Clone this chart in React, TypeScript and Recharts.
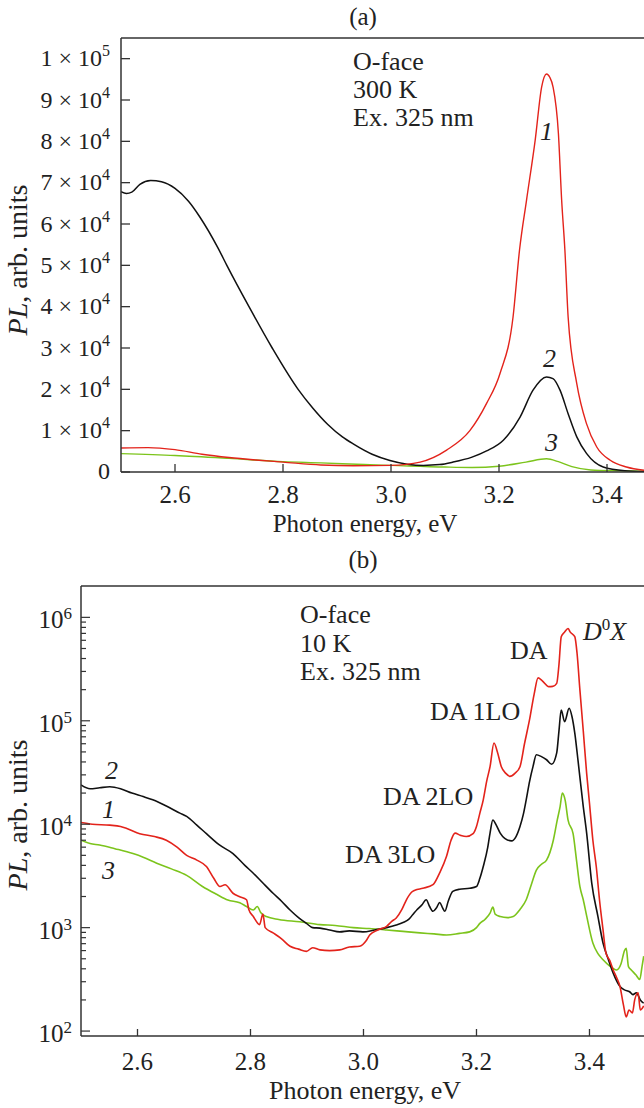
import React from 'react';
import { LineChart, Line, XAxis, YAxis, ReferenceLine } from 'recharts';

const FONT = '"Liberation Serif", "Times New Roman", serif';
const INK = '#222';
const AXIS = '#333';
const RED = '#e3231b';
const BLACK = '#111';
const GREEN = '#7cc41c';

// ---------- Panel (a): 300 K, linear scale ----------
const xTicks = [2.6, 2.8, 3.0, 3.2, 3.4];
const yTicksA = [0, 10000, 20000, 30000, 40000, 50000, 60000, 70000, 80000, 90000, 100000];
const xDomainA: [number, number] = [2.5, 3.4685];
const yDomainA: [number, number] = [0, 105000];

const redA: [number, number][] = [
  [2.5, 5800], [2.55, 5900], [2.6, 5400], [2.65, 4300], [2.7, 3500], [2.75, 2900], [2.8, 2400],
  [2.87, 1700], [2.93, 1500], [3.0, 1600], [3.054, 2400], [3.103, 5300], [3.146, 10000],
  [3.177, 16600], [3.202, 23900], [3.226, 37500], [3.238, 53700], [3.251, 65800], [3.267, 80300],
  [3.279, 93200], [3.288, 96300], [3.294, 95500], [3.3, 93200], [3.31, 81900], [3.316, 65800],
  [3.322, 53700], [3.328, 37500], [3.344, 21400], [3.362, 11700], [3.381, 6050], [3.406, 2830],
  [3.436, 1210], [3.47, 400],
];
const blackA: [number, number][] = [
  [2.5, 67800], [2.51, 67400], [2.52, 67700], [2.535, 69600], [2.555, 70500], [2.575, 70200],
  [2.6, 68600], [2.625, 65500], [2.646, 61700], [2.68, 54100], [2.696, 50000], [2.737, 40000],
  [2.78, 30000], [2.828, 20000], [2.855, 15500], [2.883, 11500], [2.91, 8500], [2.93, 6800],
  [2.965, 4300], [2.998, 2800], [3.03, 1900], [3.06, 1600], [3.09, 1800], [3.115, 2400],
  [3.15, 3600], [3.177, 5100], [3.208, 7700], [3.239, 13300], [3.263, 19800], [3.288, 23000],
  [3.3, 22600], [3.313, 19800], [3.328, 14100], [3.344, 8500], [3.362, 4500], [3.393, 1200],
  [3.433, 300], [3.47, 100],
];
const greenA: [number, number][] = [
  [2.5, 4450], [2.6, 4000], [2.7, 3300], [2.8, 2500], [2.87, 2200], [2.95, 1800], [3.0, 1600],
  [3.1, 1200], [3.15, 1100], [3.2, 1400], [3.25, 2400], [3.288, 3200], [3.31, 2500],
  [3.335, 1300], [3.37, 500], [3.42, 300], [3.47, 200],
];

// ---------- Panel (b): 10 K, log scale ----------
const yMajorB = [100, 1000, 10000, 100000, 1000000];
const minorMultipliers = [2, 3, 4, 5, 6, 7, 8, 9];
const xDomainB: [number, number] = [2.5, 3.4965];
const yDomainB: [number, number] = [89.6, 2010000];

const redB: [number, number][] = [
  [2.5, 10400], [2.52, 10000], [2.551, 9800], [2.57, 9500], [2.581, 9100], [2.604, 8100],
  [2.63, 7600], [2.651, 7000], [2.67, 6000], [2.687, 5000], [2.705, 4500], [2.722, 3900],
  [2.735, 3000], [2.746, 2500], [2.755, 2600], [2.769, 2150], [2.78, 2000], [2.793, 1860],
  [2.797, 1500], [2.805, 1280], [2.816, 1070], [2.822, 1350], [2.826, 1000], [2.84, 890],
  [2.855, 780], [2.87, 660], [2.885, 620], [2.899, 590], [2.91, 640], [2.923, 610], [2.94, 600],
  [2.958, 610], [2.975, 650], [2.993, 660], [3.005, 750], [3.011, 850], [3.025, 950],
  [3.041, 1030], [3.05, 1150], [3.058, 1240], [3.068, 1500], [3.076, 1860], [3.085, 2200],
  [3.091, 2300], [3.105, 2400], [3.123, 2600], [3.135, 3400], [3.147, 4900], [3.155, 7000],
  [3.162, 8200], [3.172, 7800], [3.182, 7600], [3.194, 8100], [3.2, 9500], [3.206, 12800],
  [3.212, 17200], [3.218, 26000], [3.224, 36000], [3.231, 61000], [3.237, 50000],
  [3.244, 36000], [3.252, 31000], [3.259, 29000], [3.268, 31000], [3.277, 36000],
  [3.285, 60000], [3.294, 103000], [3.302, 180000], [3.309, 260000], [3.316, 245000],
  [3.328, 214000], [3.335, 215000], [3.342, 230000], [3.346, 350000], [3.35, 650000],
  [3.356, 720000], [3.362, 780000], [3.366, 720000], [3.374, 650000], [3.378, 450000],
  [3.383, 200000], [3.389, 80000], [3.395, 31000], [3.4, 16000], [3.406, 7000], [3.412, 3900],
  [3.418, 1800], [3.424, 950], [3.429, 570], [3.436, 480], [3.442, 390], [3.448, 330],
  [3.454, 270], [3.46, 180], [3.465, 137], [3.47, 160], [3.476, 150], [3.48, 200],
  [3.486, 235], [3.49, 160], [3.496, 175],
];
const blackB: [number, number][] = [
  [2.5, 24000], [2.516, 22000], [2.533, 22500], [2.551, 23000], [2.57, 22000], [2.59, 20000],
  [2.61, 18500], [2.627, 17200], [2.651, 15000], [2.675, 12800], [2.687, 11900], [2.705, 9800],
  [2.722, 8100], [2.745, 6300], [2.769, 5200], [2.79, 4000], [2.805, 3360], [2.822, 2700],
  [2.84, 2150], [2.855, 1800], [2.87, 1480], [2.885, 1250], [2.899, 1100], [2.91, 1000],
  [2.923, 990], [2.94, 950], [2.958, 910], [2.975, 930], [2.999, 910], [3.02, 950],
  [3.041, 1000], [3.058, 1060], [3.07, 1120], [3.08, 1200], [3.087, 1330], [3.095, 1500],
  [3.103, 1650], [3.111, 1860], [3.117, 1600], [3.123, 1440], [3.129, 1550], [3.135, 1750],
  [3.14, 1550], [3.144, 1440], [3.15, 1800], [3.158, 2240], [3.17, 2350], [3.188, 2400],
  [3.2, 2500], [3.206, 3000], [3.212, 3900], [3.22, 6000], [3.224, 8200], [3.229, 11000],
  [3.235, 9800], [3.242, 8200], [3.25, 7300], [3.262, 6900], [3.27, 7600], [3.277, 9500],
  [3.283, 12500], [3.288, 17200], [3.294, 26000], [3.3, 36000], [3.306, 47000], [3.315, 45000],
  [3.324, 42000], [3.333, 38000], [3.342, 49000], [3.346, 80000], [3.35, 127000],
  [3.356, 98000], [3.364, 132000], [3.369, 110000], [3.374, 76000], [3.38, 40000],
  [3.389, 14800], [3.395, 8200], [3.404, 2700], [3.415, 1280], [3.424, 710], [3.433, 500],
  [3.442, 363], [3.454, 270], [3.462, 250], [3.471, 240], [3.477, 225], [3.483, 235],
  [3.49, 200], [3.496, 186],
];
const greenB: [number, number][] = [
  [2.5, 7000], [2.516, 6500], [2.533, 6300], [2.56, 5800], [2.592, 5200], [2.61, 4800],
  [2.634, 4200], [2.66, 3700], [2.687, 3200], [2.715, 2500], [2.74, 2100], [2.76, 1850],
  [2.781, 1740], [2.793, 1600], [2.805, 1480], [2.812, 1600], [2.818, 1400], [2.828, 1280],
  [2.85, 1200], [2.887, 1140], [2.923, 1070], [2.95, 1050], [2.982, 1000], [3.01, 980],
  [3.041, 950], [3.07, 920], [3.1, 890], [3.125, 870], [3.147, 850], [3.17, 880], [3.188, 910],
  [3.2, 1000], [3.206, 1100], [3.215, 1200], [3.224, 1380], [3.229, 1580], [3.233, 1350],
  [3.242, 1280], [3.255, 1250], [3.265, 1280], [3.277, 1500], [3.288, 1860], [3.297, 2600],
  [3.306, 3600], [3.315, 4100], [3.324, 4500], [3.336, 7000], [3.343, 11000], [3.348, 14800],
  [3.352, 20000], [3.357, 17000], [3.362, 11000], [3.371, 8100], [3.377, 4500], [3.383, 2500],
  [3.389, 1860], [3.395, 1300], [3.406, 710], [3.415, 560], [3.424, 490], [3.435, 430],
  [3.448, 390], [3.456, 450], [3.462, 600], [3.465, 630], [3.469, 420], [3.474, 390],
  [3.482, 350], [3.489, 315], [3.493, 420], [3.496, 530],
];

const toRows = (pts: [number, number][]) => pts.map(([e, v]) => ({ e, v }));

const yTicksB: number[] = [];
yMajorB.forEach((m) => {
  yTicksB.push(m);
  if (m < 1000000) minorMultipliers.forEach((k) => yTicksB.push(m * k));
});

// ---------- tick renderers ----------
const SciTickA = (props: any) => {
  const { x, y, payload } = props;
  const v = payload.value as number;
  let label: React.ReactNode;
  if (v === 0) {
    label = (
      <text x={x - 11} y={y + 7} textAnchor="end" fontSize={24} fontFamily={FONT} fill={INK}>0</text>
    );
  } else {
    const exp = Math.floor(Math.log10(v) + 1e-9);
    const m = Math.round(v / Math.pow(10, exp));
    label = (
      <text x={x - 11} y={y + 7.5} textAnchor="end" fontSize={24} fontFamily={FONT} fill={INK}>
        <tspan>{`${m} \u00d7 10`}</tspan>
        <tspan dy={-10} fontSize={16}>{exp}</tspan>
      </text>
    );
  }
  return (
    <g>
      <line x1={x} x2={x + 9} y1={y} y2={y} stroke={AXIS} strokeWidth={1.3} />
      {label}
    </g>
  );
};

const XTick = (size: number, offset: number, len: number) => (props: any) => {
  const { x, y, payload } = props;
  return (
    <g>
      <line x1={x} x2={x} y1={y} y2={y - len} stroke={AXIS} strokeWidth={1.3} />
      <text x={x} y={y + offset} textAnchor="middle" fontSize={size} fontFamily={FONT} fill={INK}>
        {(payload.value as number).toFixed(1)}
      </text>
    </g>
  );
};

const LogTickB = (props: any) => {
  const { x, y, payload } = props;
  const v = payload.value as number;
  const ex = Math.log10(v);
  const major = Math.abs(ex - Math.round(ex)) < 1e-6;
  return (
    <g>
      <line x1={x} x2={x + (major ? 9 : 5)} y1={y} y2={y} stroke={AXIS} strokeWidth={1.2} />
      {major && (
        <text x={x - 9} y={y + 11} textAnchor="end" fontSize={25} fontFamily={FONT} fill={INK}>
          <tspan>10</tspan>
          <tspan dy={-9} fontSize={17}>{Math.round(ex)}</tspan>
        </text>
      )}
    </g>
  );
};

const axisLine = { stroke: AXIS, strokeWidth: 1.5 };

const PanelA = () => (
  <LineChart width={644} height={530} margin={{ top: 38, right: 0, bottom: 0, left: 0 }}>
    <XAxis
      dataKey="e" type="number" domain={xDomainA} allowDataOverflow ticks={xTicks} interval={0}
      height={58} tickSize={0} tickMargin={0} tickLine={false} axisLine={axisLine}
      tick={XTick(25, 31, 8)}
    />
    <YAxis
      dataKey="v" type="number" domain={yDomainA} allowDataOverflow ticks={yTicksA} interval={0}
      width={121} tickSize={0} tickMargin={0} tickLine={false} axisLine={axisLine} tick={SciTickA}
    />
    <ReferenceLine y={yDomainA[1]} stroke={AXIS} strokeWidth={1.5} />
    <Line data={toRows(greenA)} dataKey="v" type="monotone" stroke={GREEN} strokeWidth={1.4} dot={false} isAnimationActive={false} />
    <Line data={toRows(blackA)} dataKey="v" type="monotone" stroke={BLACK} strokeWidth={1.5} dot={false} isAnimationActive={false} />
    <Line data={toRows(redA)} dataKey="v" type="monotone" stroke={RED} strokeWidth={1.4} dot={false} isAnimationActive={false} />
  </LineChart>
);

const PanelB = () => (
  <LineChart width={644} height={536} margin={{ top: 26, right: 0, bottom: 0, left: 0 }}>
    <XAxis
      dataKey="e" type="number" domain={xDomainB} allowDataOverflow ticks={xTicks} interval={0}
      height={60} tickSize={0} tickMargin={0} tickLine={false} axisLine={axisLine}
      tick={XTick(25, 34, 7)}
    />
    <YAxis
      dataKey="v" type="number" scale="log" domain={yDomainB} allowDataOverflow ticks={yTicksB}
      interval={0} width={81} tickSize={0} tickMargin={0} tickLine={false} axisLine={axisLine}
      tick={LogTickB}
    />
    <ReferenceLine y={yDomainB[1]} stroke={AXIS} strokeWidth={1.5} />
    <Line data={toRows(greenB)} dataKey="v" type="monotone" stroke={GREEN} strokeWidth={1.6} dot={false} isAnimationActive={false} />
    <Line data={toRows(blackB)} dataKey="v" type="monotone" stroke={BLACK} strokeWidth={1.6} dot={false} isAnimationActive={false} />
    <Line data={toRows(redB)} dataKey="v" type="monotone" stroke={RED} strokeWidth={1.6} dot={false} isAnimationActive={false} />
  </LineChart>
);

const T = (p: any) => <text fontFamily={FONT} fill={INK} {...p} />;

const Overlay = () => (
  <svg width={644} height={1108} style={{ position: 'absolute', left: 0, top: 0, pointerEvents: 'none' }}>
    {/* panel (a) */}
    <T x={363} y={25} fontSize={25} textAnchor="middle">(a)</T>
    <T x={353} y={70} fontSize={26}>O-face</T>
    <T x={353} y={98} fontSize={26}>300 K</T>
    <T x={353} y={126} fontSize={26}>Ex. 325 nm</T>
    <T x={540} y={140} fontSize={26} fontStyle="italic">1</T>
    <T x={543} y={367} fontSize={26} fontStyle="italic">2</T>
    <T x={545} y={451} fontSize={26} fontStyle="italic">3</T>
    <T transform="translate(27,260) rotate(-90)" fontSize={28} textAnchor="middle">
      <tspan fontStyle="italic">PL</tspan>, arb. units
    </T>
    <T x={365} y={532} fontSize={25} textAnchor="middle">Photon energy, eV</T>
    {/* panel (b) */}
    <T x={363} y={568} fontSize={25} textAnchor="middle">(b)</T>
    <T x={300} y={623} fontSize={26}>O-face</T>
    <T x={300} y={652} fontSize={26}>10 K</T>
    <T x={300} y={680} fontSize={26}>Ex. 325 nm</T>
    <T x={583} y={640} fontSize={26}>
      <tspan fontStyle="italic">D</tspan>
      <tspan dy={-10} fontSize={17}>0</tspan>
      <tspan dy={10} fontStyle="italic">X</tspan>
    </T>
    <T x={510} y={659} fontSize={26}>DA</T>
    <T x={430} y={720} fontSize={26}>DA 1LO</T>
    <T x={383} y={805} fontSize={26}>DA 2LO</T>
    <T x={345} y={863} fontSize={26}>DA 3LO</T>
    <T x={105} y={779} fontSize={26} fontStyle="italic">2</T>
    <T x={102} y={818} fontSize={26} fontStyle="italic">1</T>
    <T x={102} y={879} fontSize={26} fontStyle="italic">3</T>
    <T transform="translate(27,815) rotate(-90)" fontSize={28} textAnchor="middle">
      <tspan fontStyle="italic">PL</tspan>, arb. units
    </T>
    <T x={365} y={1099} fontSize={26} textAnchor="middle">Photon energy, eV</T>
  </svg>
);

export default function App() {
  return (
    <div style={{ position: 'absolute', left: 0, top: 0, width: 644, height: 1108, background: '#fff', overflow: 'hidden' }}>
      <div style={{ position: 'absolute', left: 0, top: 0 }}>
        <PanelA />
      </div>
      <div style={{ position: 'absolute', left: 0, top: 560 }}>
        <PanelB />
      </div>
      <Overlay />
    </div>
  );
}
